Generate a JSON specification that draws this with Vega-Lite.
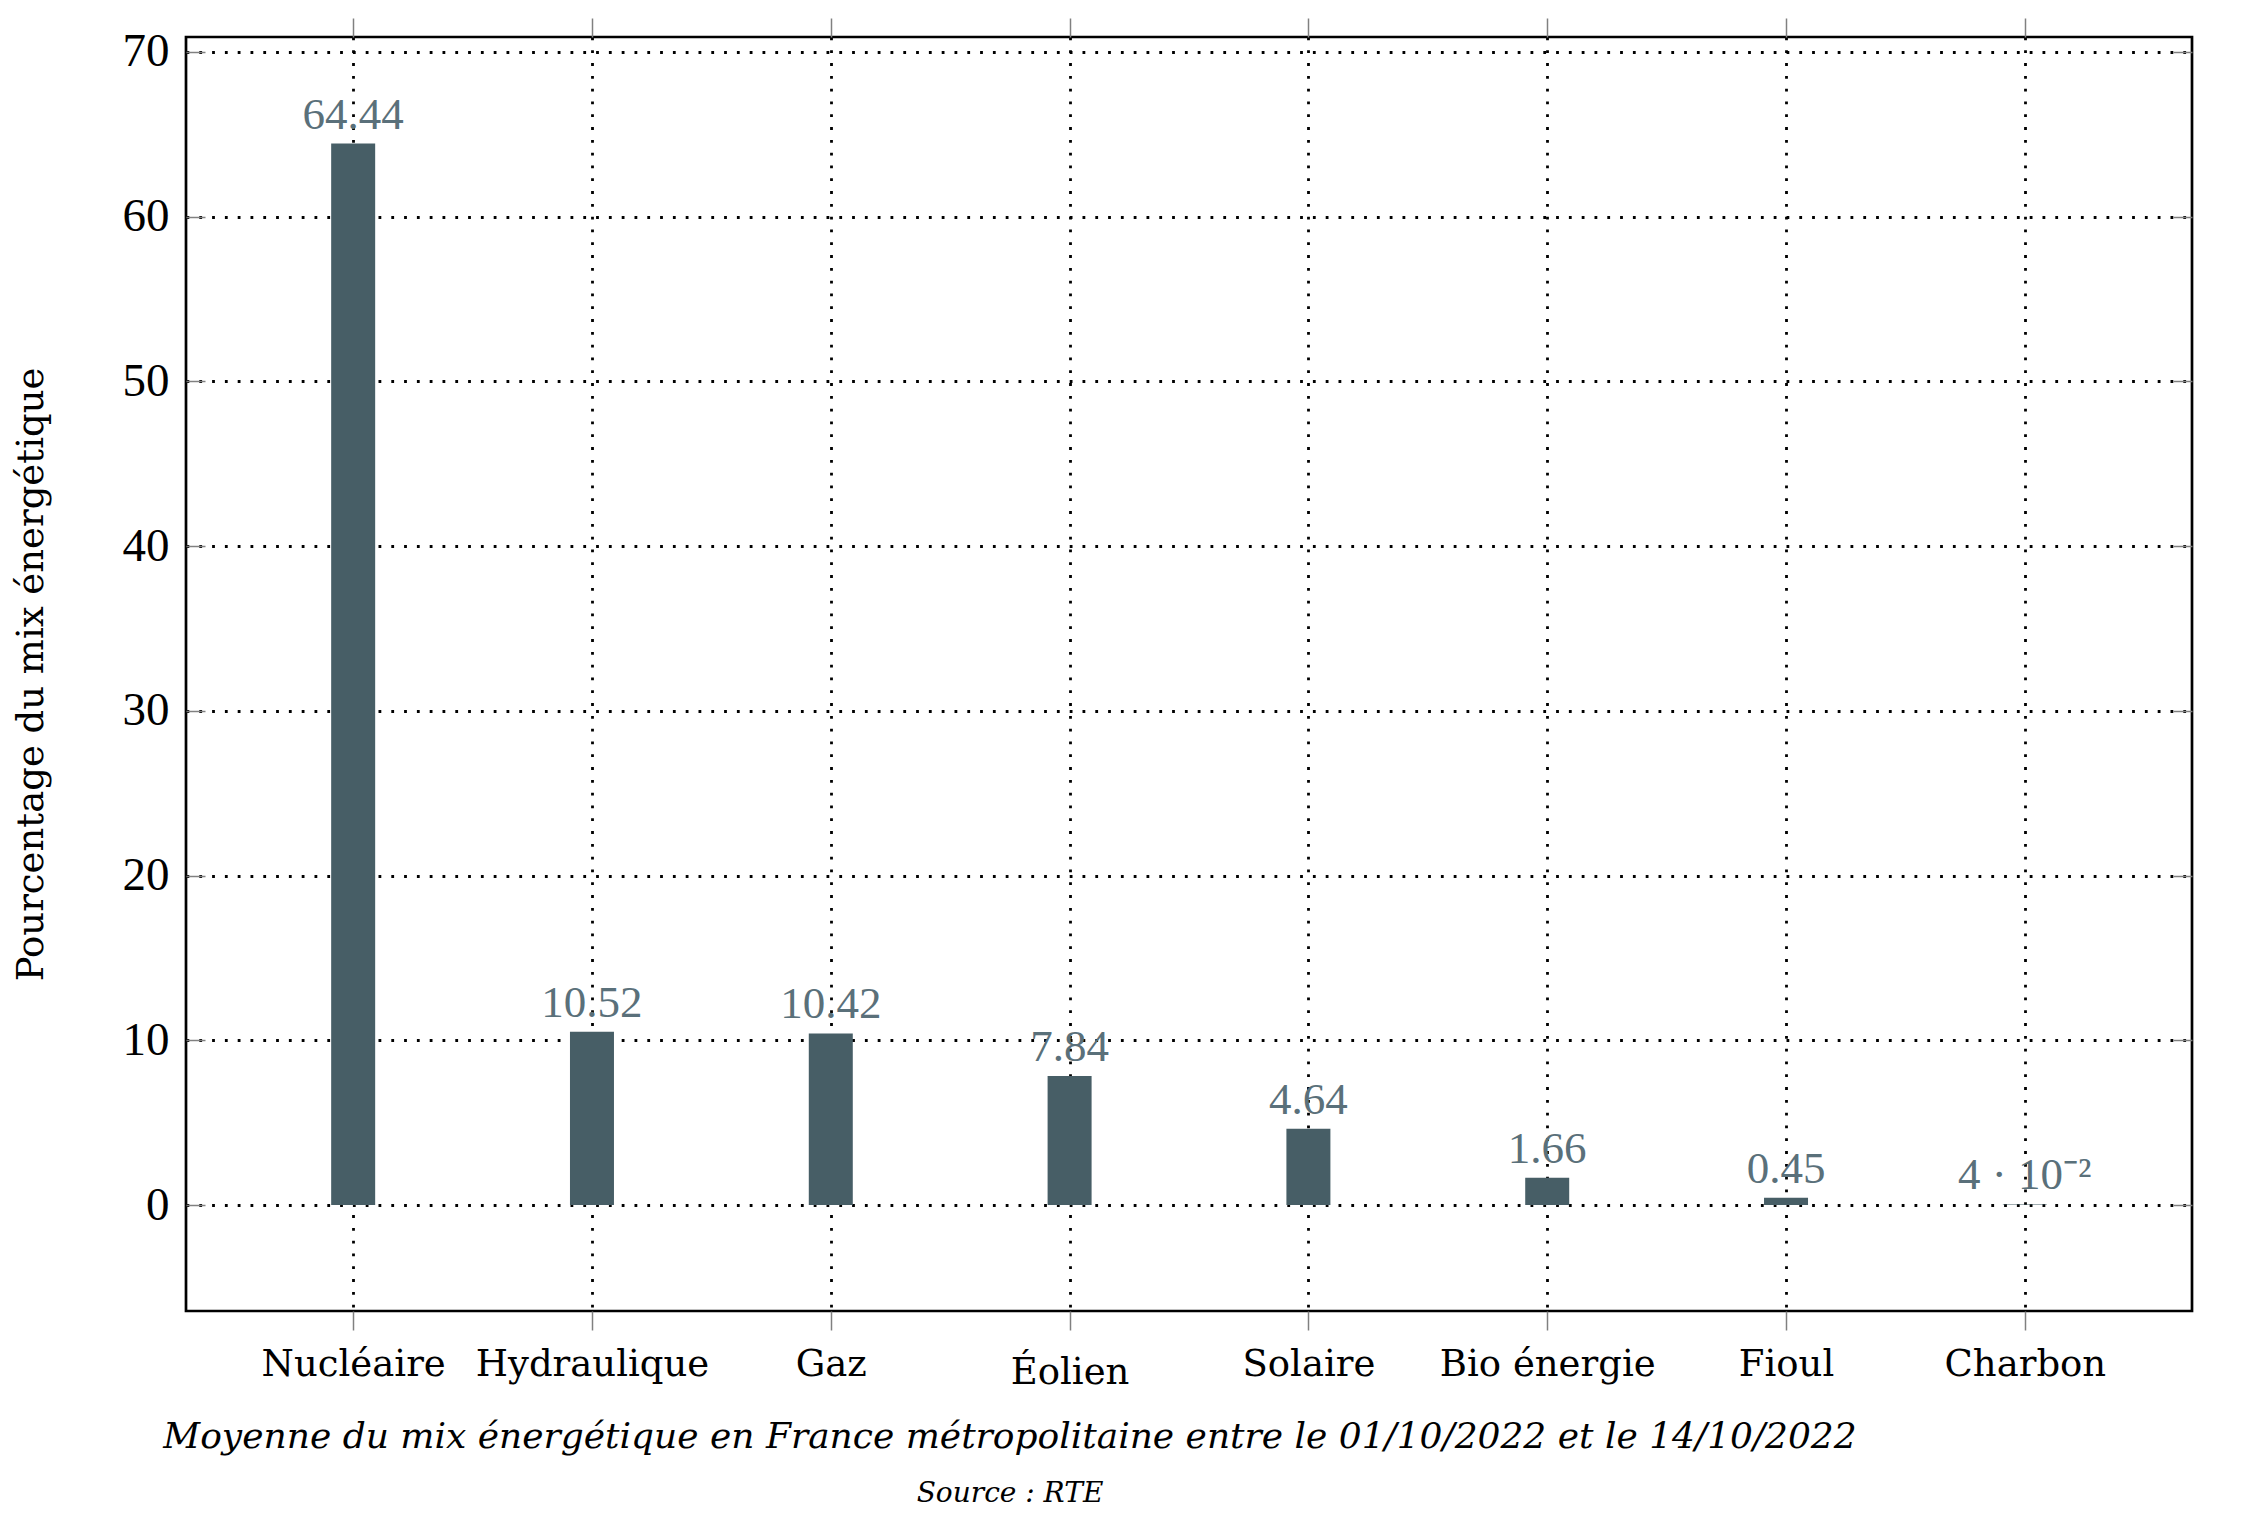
{
  "$schema": "https://vega.github.io/schema/vega-lite/v6.json",
  "autosize": "none",
  "width": 2006,
  "height": 1274,
  "padding": {"left": 186, "top": 37, "right": 56, "bottom": 209},
  "background": "white",
  "data": {
    "values": [
      {"source": "Nucléaire", "value": 64.44, "label": "64.44"},
      {"source": "Hydraulique", "value": 10.52, "label": "10.52"},
      {"source": "Gaz", "value": 10.42, "label": "10.42"},
      {"source": "Éolien", "value": 7.84, "label": "7.84"},
      {"source": "Solaire", "value": 4.64, "label": "4.64"},
      {"source": "Bio énergie", "value": 1.66, "label": "1.66"},
      {"source": "Fioul", "value": 0.45, "label": "0.45"},
      {"source": "Charbon", "value": 0.04, "label": "4 · 10⁻²"}
    ]
  },
  "title": {
    "text": "Moyenne du mix énergétique en France métropolitaine entre le 01/10/2022 et le 14/10/2022",
    "subtitle": "Source : RTE",
    "orient": "bottom",
    "anchor": "middle",
    "dx": -179,
    "offset": 30,
    "font": "DejaVu Serif",
    "fontStyle": "italic",
    "fontWeight": "normal",
    "fontSize": 36,
    "color": "black",
    "subtitleFont": "DejaVu Serif",
    "subtitleFontStyle": "italic",
    "subtitleFontSize": 28,
    "subtitleColor": "black",
    "subtitlePadding": 24
  },
  "resolve": {"axis": {"x": "independent", "y": "independent"}},
  "layer": [
    {
      "mark": {"type": "bar", "width": 44, "color": "#475E66"},
      "encoding": {
        "x": {
          "field": "source",
          "type": "nominal",
          "sort": null,
          "scale": {"type": "point", "padding": 0.7},
          "axis": {
            "orient": "bottom",
            "title": null,
            "labelAngle": 0,
            "labelLimit": 0,
            "labelFont": "DejaVu Serif",
            "labelFontSize": 37,
            "labelColor": "black",
            "labelBaseline": "alphabetic",
            "labelPadding": {"condition": {"test": "datum.value == 'Éolien'", "value": 53}, "value": 45},
            "tickSize": 19,
            "tickColor": "#808080",
            "tickWidth": 1.5,
            "domain": false,
            "grid": true,
            "gridColor": "black",
            "gridWidth": 2.8,
            "gridDash": [2.8, 10]
          }
        },
        "y": {
          "field": "value",
          "type": "quantitative",
          "scale": {"domain": [-6.43, 70.91], "nice": false, "zero": false},
          "axis": {
            "orient": "left",
            "values": [0, 10, 20, 30, 40, 50, 60, 70],
            "title": "Pourcentage du mix énergétique",
            "titleFont": "DejaVu Serif",
            "titleFontSize": 37,
            "titleFontWeight": "normal",
            "titleColor": "black",
            "titleAngle": -90,
            "titleBaseline": "alphabetic",
            "titleAlign": "center",
            "titleX": -144,
            "titleY": 637,
            "labelFont": "Liberation Serif",
            "labelFontSize": 47,
            "labelColor": "black",
            "labelPadding": 36,
            "tickSize": -19,
            "tickColor": "#808080",
            "tickWidth": 1.5,
            "domain": false,
            "grid": true,
            "gridColor": "black",
            "gridWidth": 2.8,
            "gridDash": [2.8, 10]
          }
        }
      }
    },
    {
      "mark": {"type": "text", "font": "Liberation Serif", "fontSize": 45, "color": "#5A707A", "baseline": "alphabetic", "dy": -15},
      "encoding": {
        "x": {
          "field": "source",
          "type": "nominal",
          "sort": null,
          "axis": {
            "orient": "top",
            "title": null,
            "labels": false,
            "tickSize": 19,
            "tickColor": "#808080",
            "tickWidth": 1.5,
            "domain": false,
            "grid": false
          }
        },
        "y": {
          "field": "value",
          "type": "quantitative",
          "axis": {
            "orient": "right",
            "values": [0, 10, 20, 30, 40, 50, 60, 70],
            "title": null,
            "labels": false,
            "tickSize": -19,
            "tickColor": "#808080",
            "tickWidth": 1.5,
            "domain": false,
            "grid": false
          }
        },
        "text": {"field": "label"}
      }
    }
  ],
  "config": {
    "view": {"stroke": "black", "strokeWidth": 2.7}
  }
}
